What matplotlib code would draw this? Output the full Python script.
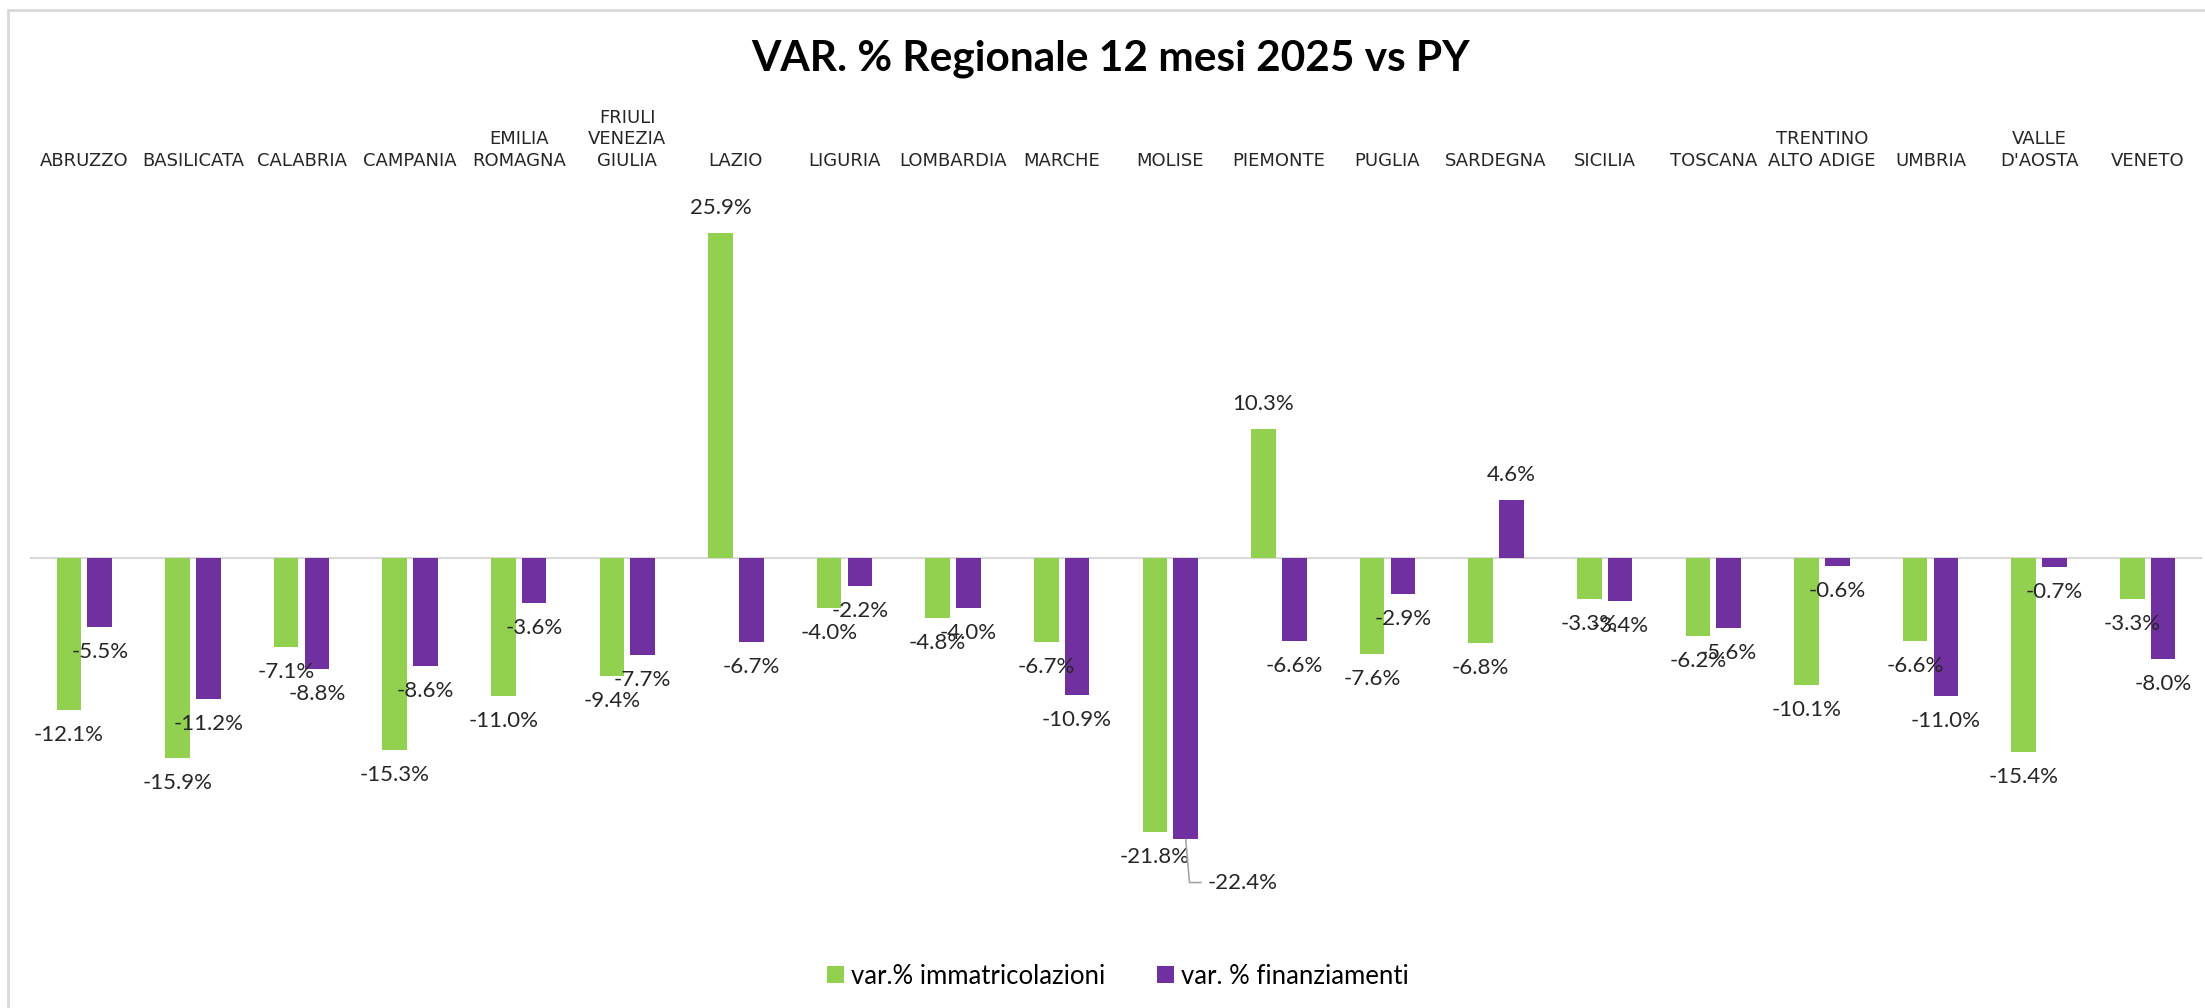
import numpy as np
import matplotlib
matplotlib.use('Agg')
from matplotlib import pyplot as plt
from matplotlib.patches import Rectangle

regioni = ['ABRUZZO', 'BASILICATA', 'CALABRIA', 'CAMPANIA', 'EMILIA\nROMAGNA',
           'FRIULI\nVENEZIA\nGIULIA', 'LAZIO', 'LIGURIA', 'LOMBARDIA', 'MARCHE',
           'MOLISE', 'PIEMONTE', 'PUGLIA', 'SARDEGNA', 'SICILIA', 'TOSCANA',
           'TRENTINO\nALTO ADIGE', 'UMBRIA', "VALLE\nD'AOSTA", 'VENETO']
immatricolazioni = [-12.1, -15.9, -7.1, -15.3, -11.0, -9.4, 25.9, -4.0, -4.8, -6.7,
                    -21.8, 10.3, -7.6, -6.8, -3.3, -6.2, -10.1, -6.6, -15.4, -3.3]
finanziamenti = [-5.5, -11.2, -8.8, -8.6, -3.6, -7.7, -6.7, -2.2, -4.0, -10.9,
                 -22.4, -6.6, -2.9, 4.6, -3.4, -5.6, -0.6, -11.0, -0.7, -8.0]
serie = ['var.% immatricolazioni', 'var. % finanziamenti']
colori = ['#92D050', '#7030A0']

plt.rcParams['font.family'] = ['Lato', 'DejaVu Sans']

fig = plt.figure(figsize=(22.05, 10.08), dpi=100)
ax = fig.add_axes([30/2205, 1-935/1008, 2172/2205, 754/1008])

x = np.arange(len(regioni))
w = 0.227
off = 0.142

b1 = ax.bar(x - off, immatricolazioni, w, color=colori[0], label=serie[0])
b2 = ax.bar(x + off, finanziamenti, w, color=colori[1], label=serie[1])

ax.axhline(0, color='#D9D9D9', lw=1.5, zorder=0)
ax.set_ylim(-30, 30)
ax.set_xlim(-0.5, len(regioni) - 0.5)

# etichette valori
for serie_val, dx in [(immatricolazioni, -off), (finanziamenti, off)]:
    for i, v in enumerate(serie_val):
        testo = '%.1f%%' % v
        if regioni[i] == 'MOLISE' and dx > 0:
            ax.annotate(testo, xy=(i + dx, v), xytext=(16, -31), textcoords='offset points',
                        ha='left', va='center', fontsize=16, color='#262626',
                        arrowprops=dict(arrowstyle='-', color='#A6A6A6', lw=1.2,
                                        connectionstyle='angle,angleA=0,angleB=95,rad=0',
                                        shrinkA=3, shrinkB=0))
            continue
        dy = 18 if v > 0 else -18
        ax.annotate(testo, xy=(i + dx, v), xytext=(0, dy), textcoords='offset points',
                    ha='center', va='center', fontsize=16, color='#262626')

ax.xaxis.tick_top()
ax.set_xticks(x)
ax.set_xticklabels(regioni, fontsize=13, family=['Liberation Sans Narrow', 'DejaVu Sans'],
                   linespacing=1.25, color='#262626')
ax.tick_params(axis='x', length=0, pad=8)
ax.set_yticks([])
for s in ax.spines.values():
    s.set_visible(False)

fig.text(1111/2205, 1-59/1008, 'VAR. % Regionale 12 mesi 2025 vs PY', ha='center', va='center',
         fontsize=30.5, fontweight='bold', color='black')

fig.legend(handles=[b1, b2], labels=serie, loc='center', bbox_to_anchor=(1118/2205, 1-976/1008),
           ncol=2, frameon=False, fontsize=18.5, handlelength=0.65, handleheight=0.65,
           handletextpad=0.3, columnspacing=2.0)

fig.add_artist(Rectangle((8/2205, -0.1), 1.2, 1.1 - 10/1008, transform=fig.transFigure,
                         fill=False, edgecolor='#D9D9D9', lw=2))

plt.savefig('out.png', dpi=100)
